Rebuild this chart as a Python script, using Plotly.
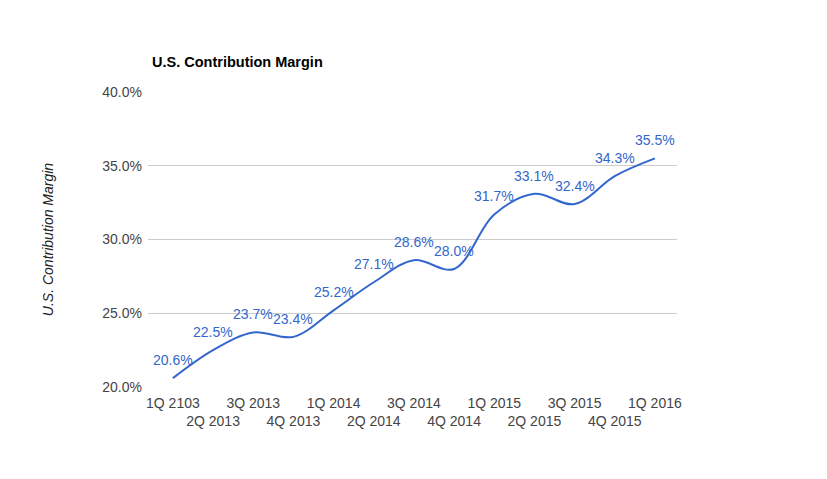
import plotly.graph_objects as go

quarters = ["1Q 2103", "2Q 2013", "3Q 2013", "4Q 2013", "1Q 2014", "2Q 2014", "3Q 2014",
            "4Q 2014", "1Q 2015", "2Q 2015", "3Q 2015", "4Q 2015", "1Q 2016"]
margin_pct = [20.6, 22.5, 23.7, 23.4, 25.2, 27.1, 28.6, 28.0, 31.7, 33.1, 32.4, 34.3, 35.5]
y_ticks = [20, 25, 30, 35, 40]

idx = list(range(len(quarters)))
tick_text = [q if i % 2 == 0 else "<br>" + q for i, q in enumerate(quarters)]

fig = go.Figure()
fig.add_trace(go.Scatter(
    x=idx, y=margin_pct, mode="lines",
    line=dict(color="#3366cc", width=2, shape="spline", smoothing=1.0),
    hoverinfo="skip", showlegend=False,
))

for i, v in zip(idx, margin_pct):
    fig.add_annotation(x=i, y=v, text=f"{v:.1f}%", showarrow=False,
                       xanchor="center", yanchor="middle", yshift=18,
                       font=dict(family="Liberation Sans, Arial", size=14, color="#3366cc"))

fig.update_layout(
    width=827, height=479,
    margin=dict(l=140, r=158, t=84, b=100),
    plot_bgcolor="white", paper_bgcolor="white",
    font=dict(family="Liberation Sans, Arial", size=14, color="#444444"),
    title=dict(text="<b>U.S. Contribution Margin</b>", x=144/827, xanchor="left",
               y=1 - 54/479, yanchor="middle",
               font=dict(family="Liberation Sans, Arial", size=14.5, color="#000000")),
    xaxis=dict(tickmode="array", tickvals=idx, ticktext=tick_text, tickangle=0,
               range=[-0.62, 12.55], showgrid=False, zeroline=False, automargin=False,
               showline=False, ticks="", ticklabelstandoff=6,
               tickfont=dict(size=14, color="#444444")),
    yaxis=dict(range=[20, 40], tickvals=y_ticks, automargin=False,
               ticktext=[f"{v:.1f}%" for v in y_ticks],
               showgrid=True, gridcolor="#cccccc", gridwidth=1, zeroline=False,
               showline=False, ticks="", ticklabelstandoff=5,
               tickfont=dict(size=14, color="#444444"),
               title=dict(text="<i>U.S. Contribution Margin</i>", standoff=45,
                          font=dict(size=14, color="#222222"))),
)

fig.write_html("out.html")
